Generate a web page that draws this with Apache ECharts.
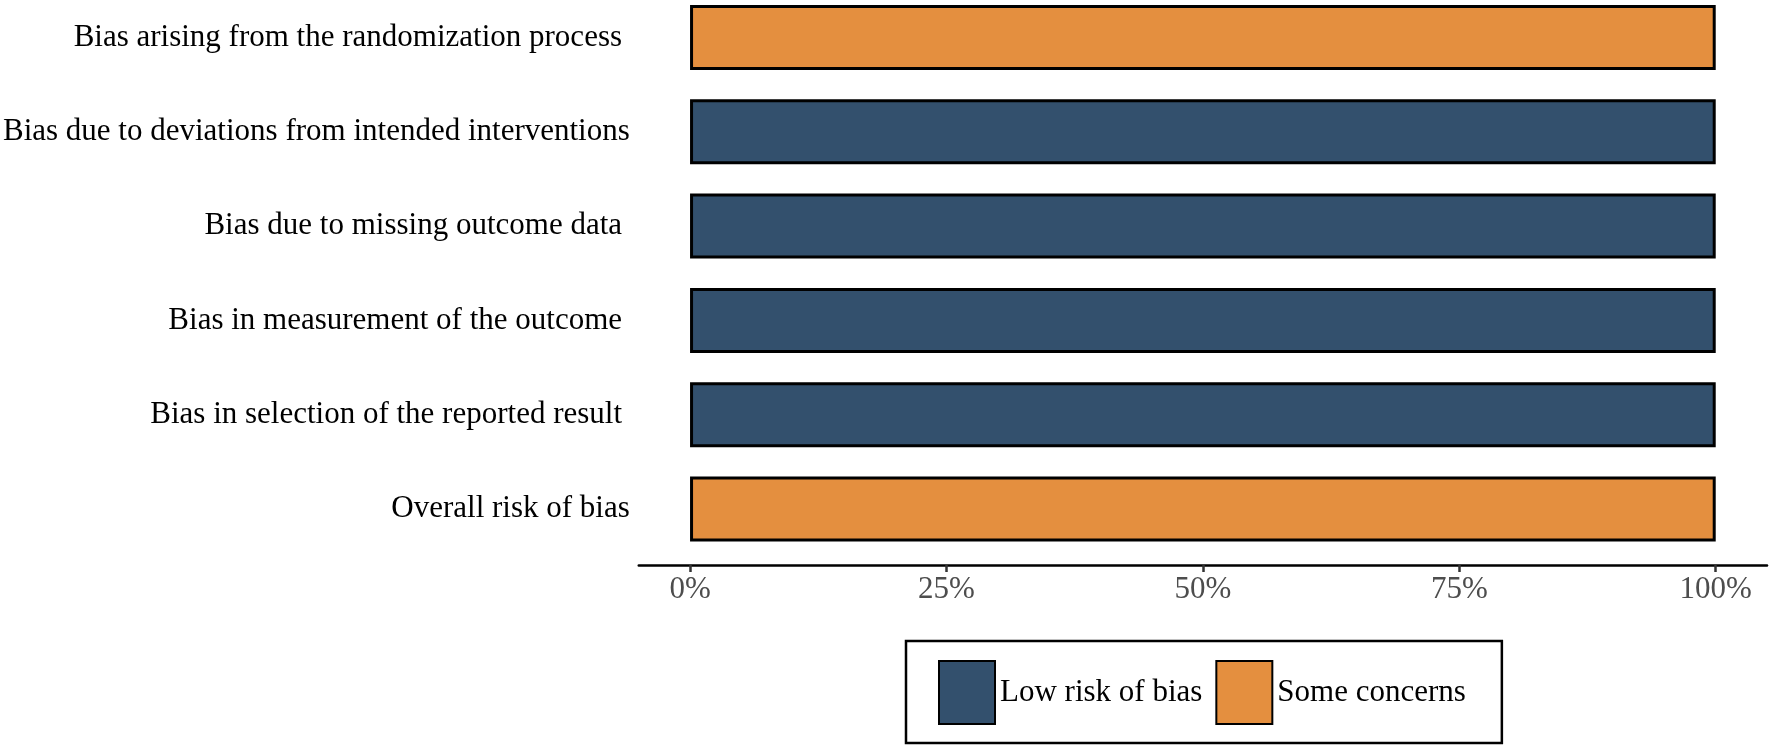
<!DOCTYPE html>
<html>
<head>
<meta charset="utf-8">
<script src="https://cdn.jsdelivr.net/npm/echarts@6/dist/echarts.min.js"></script>
<style>
html,body{margin:0;padding:0;background:#fff;}
#chart{width:1772px;height:750px;}
</style>
</head>
<body>
<div id="chart"></div>
<script>
const categories = [
  "Bias arising from the randomization process ",
  "Bias due to deviations from intended interventions",
  "Bias due to missing outcome data ",
  "Bias in measurement of the outcome ",
  "Bias in selection of the reported result ",
  "Overall risk of bias"
];
const lowRisk = [null, 100, 100, 100, 100, null];
const someConcerns = [100, null, null, null, null, 100];
const xTicks = [0, 25, 50, 75, 100];

const FONT = "Liberation Serif";
const chart = echarts.init(document.getElementById('chart'), null, {renderer: 'canvas'});
chart.setOption({
  animation: false,
  backgroundColor: '#ffffff',
  grid: { left: 637, right: 5, top: 37.5, bottom: 241, containLabel: false },
  xAxis: {
    type: 'value', min: -5, max: 105, offset: 56,
    axisLine: { show: true, lineStyle: { color: '#000', width: 2.5 } },
    axisTick: { show: true, customValues: xTicks, length: 7, lineStyle: { color: '#333', width: 2.5 } },
    axisLabel: { customValues: xTicks, formatter: v => v + '%', color: '#4d4d4d',
      fontFamily: FONT, fontSize: 31, margin: 9 },
    splitLine: { show: false }
  },
  yAxis: {
    type: 'category', data: categories, inverse: true, boundaryGap: false,
    axisLine: { show: false }, axisTick: { show: false }, splitLine: { show: false },
    axisLabel: { color: '#000', fontFamily: FONT, fontSize: 31, margin: 9 }
  },
  legend: {
    left: 906, top: 641,
    padding: [19, 36, 18, 32],
    borderColor: '#000', borderWidth: 2.5,
    itemWidth: 56, itemHeight: 63, itemGap: 13,
    icon: 'rect',
    textStyle: { color: '#000', fontFamily: FONT, fontSize: 31 },
    data: ['Low risk of bias', 'Some concerns']
  },
  series: [
    { name: 'Low risk of bias', type: 'bar', stack: 'total', data: lowRisk, barWidth: 65, clip: false,
      itemStyle: { color: '#33506D', borderColor: '#000', borderWidth: 3 } },
    { name: 'Some concerns', type: 'bar', stack: 'total', data: someConcerns, barWidth: 65, clip: false,
      itemStyle: { color: '#E48F3F', borderColor: '#000', borderWidth: 3 } }
  ]
});
</script>
</body>
</html>
